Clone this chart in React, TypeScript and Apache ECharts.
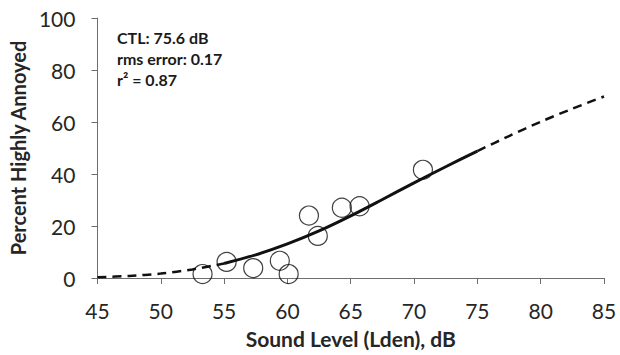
import React, { useEffect, useRef } from "react";
import * as echarts from "echarts";

const xTicks = [45, 50, 55, 60, 65, 70, 75, 80, 85];
const obsLevel = [53.3, 55.2, 57.3, 59.4, 60.1, 61.7, 62.4, 64.3, 65.7, 70.7];
const obsPercent = [1.5, 6.2, 3.8, 6.6, 1.5, 24.0, 16.2, 27.0, 27.6, 41.6];

const curveLevelLow = [45, 47.5, 50, 52.5, 55];
const curvePctLow = [0.3, 0.8, 1.7, 3.3, 5.6];
const curveLevelMid = [55, 57.5, 60, 62.5, 65, 67.5, 70, 72.5, 75];
const curvePctMid = [5.6, 8.9, 13.1, 18.1, 23.9, 30.2, 36.6, 42.8, 48.8];
const curveLevelHigh = [75, 77.5, 80, 82.5, 85];
const curvePctHigh = [48.8, 54.6, 60.1, 65.1, 69.8];

const notes = ["CTL: 75.6 dB", "rms error: 0.17", "r² = 0.87"];

const pair = (xs: number[], ys: number[]) => xs.map((x, i) => [x, ys[i]]);

export default function App() {
  const ref = useRef<HTMLDivElement>(null);
  useEffect(() => {
    document.body.style.margin = "0";
    if (!ref.current) return;
    const chart = echarts.init(ref.current, null, { renderer: "svg" });
    const font = "Lato, 'Open Sans', sans-serif";
    const axisColor = "#6e6e6e";
    chart.setOption({
      animation: false,
      backgroundColor: "#ffffff",
      grid: { left: 88, right: 16, top: 18, bottom: 77, containLabel: false },
      xAxis: {
        type: "value",
        min: 45,
        max: 85,
        interval: 5,
        name: "Sound Level (Lden), dB",
        nameLocation: "middle",
        nameGap: 50,
        nameTextStyle: { fontFamily: font, fontSize: 21, fontWeight: "bold", color: "#262626" },
        axisLine: { show: true, onZero: false, lineStyle: { color: axisColor, width: 1 } },
        axisTick: { show: true, inside: false, length: 6, lineStyle: { color: axisColor } },
        axisLabel: { fontFamily: font, fontSize: 21, color: "#262626", margin: 22 },
        splitLine: { show: false },
      },
      yAxis: {
        type: "value",
        min: 0,
        max: 100,
        interval: 20,
        name: "Percent Highly Annoyed",
        nameLocation: "middle",
        nameGap: 60,
        nameRotate: 90,
        nameTextStyle: { fontFamily: font, fontSize: 20, fontWeight: "bold", color: "#262626" },
        axisLine: { show: true, lineStyle: { color: axisColor, width: 1 } },
        axisTick: { show: true, inside: false, length: 6, lineStyle: { color: axisColor } },
        axisLabel: { fontFamily: font, fontSize: 21, color: "#262626", margin: 22 },
        splitLine: { show: false },
      },
      graphic: notes.map((t, i) => ({
        type: "text",
        left: 117,
        top: 29 + i * 21,
        style: { text: t, font: `bold 16px ${font}`, fill: "#1a1a1a" },
      })),
      series: [
        {
          type: "line",
          data: pair(curveLevelLow, curvePctLow),
          smooth: 0.3,
          symbol: "none",
          lineStyle: { color: "#111", width: 2.5, type: [9, 6] },
          z: 2,
        },
        {
          type: "line",
          data: pair(curveLevelMid, curvePctMid),
          smooth: 0.3,
          symbol: "none",
          lineStyle: { color: "#111", width: 3 },
          z: 2,
        },
        {
          type: "line",
          data: pair(curveLevelHigh, curvePctHigh),
          smooth: 0.3,
          symbol: "none",
          lineStyle: { color: "#111", width: 2.5, type: [9, 6] },
          z: 2,
        },
        {
          type: "scatter",
          data: pair(obsLevel, obsPercent),
          symbol: "circle",
          symbolSize: 19,
          itemStyle: { color: "rgba(255,255,255,0)", borderColor: "#111", borderWidth: 1.2 },
          z: 3,
        },
      ],
    });
    return () => chart.dispose();
  }, []);
  return <div ref={ref} style={{ width: 620, height: 355 }} />;
}
